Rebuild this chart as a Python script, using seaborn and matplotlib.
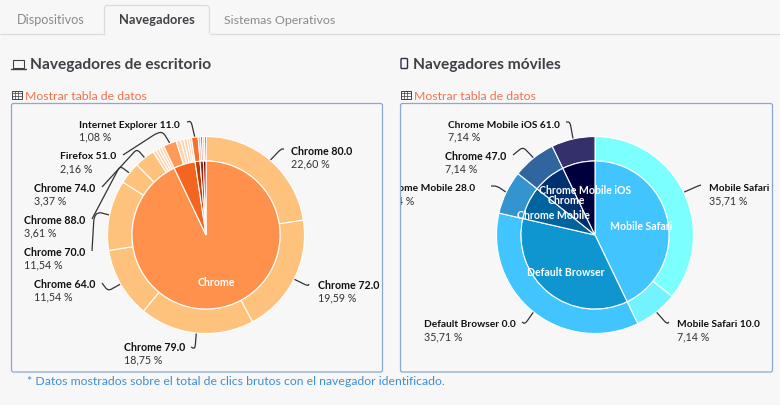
import matplotlib
matplotlib.use("Agg")
import matplotlib.pyplot as plt
from matplotlib.patches import FancyBboxPatch, PathPatch, Rectangle
from matplotlib.path import Path
import numpy as np
import seaborn as sns

# ---- data ----
desk_inner_names = ["Chrome", "Firefox", "Internet Explorer", "Safari", "Otros"]
desk_inner_values = [92.94, 4.70, 1.08, 0.72, 0.56]
desk_outer_names = ["Chrome 80.0", "Chrome 72.0", "Chrome 79.0", "Chrome 64.0", "Chrome 70.0",
                    "Chrome 88.0", "Chrome 74.0", "Chrome 78.0", "Chrome 81.0", "Chrome 75.0",
                    "Chrome 83.0", "Firefox 51.0", "Firefox 74.0", "Firefox 73.0", "Firefox 68.0",
                    "Firefox 52.0", "Firefox 75.0", "Internet Explorer 11.0", "Safari 13.0",
                    "Safari 12.0", "Otros 1", "Otros 2"]
desk_outer_values = [22.60, 19.59, 18.75, 11.54, 11.54,
                     3.61, 3.37, 0.54, 0.50, 0.45,
                     0.45, 2.16, 0.72, 0.54, 0.50,
                     0.40, 0.38, 1.08, 0.40, 0.32, 0.30, 0.26]
mob_inner_names = ["Mobile Safari", "Default Browser", "Chrome Mobile", "Chrome", "Chrome Mobile iOS"]
mob_inner_values = [42.86, 35.71, 7.14, 7.14, 7.14]
mob_outer_names = ["Mobile Safari 13.0", "Mobile Safari 10.0", "Default Browser 0.0",
                   "Chrome Mobile 28.0", "Chrome 47.0", "Chrome Mobile iOS 61.0"]
mob_outer_values = [35.71, 7.14, 35.71, 7.14, 7.14, 7.14]
tab_labels = ["Dispositivos", "Navegadores", "Sistemas Operativos"]

# ---- colours ----
desk_inner_colors = ["#ff914d", "#f4661f", "#c23b00", "#a51a00", "#7a0000"]
_pale = "#ffd2ae"
desk_outer_colors = ["#ffc27d"] * 7 + [_pale] * 4 + ["#ff9a58"] + [_pale] * 5 + \
                    ["#f8702c", "#f0c0b8", "#c8402f", "#f0c0b8", "#700000"]
mob_inner_colors = ["#42c5ff", "#0f96d0", "#00659f", "#003070", "#00003c"]
mob_outer_colors = ["#7bffff", "#72f3ff", "#42c5ff", "#3494d0", "#30659f", "#33306b"]
BG = "#f7f7f7"
DARK = "#3f4146"
ORANGE = "#f0704f"
BLUE = "#8aa8d0"

# ---- layout (pixels) ----
W, H = 780, 406
CENTERS = [(206, 236), (595, 236)]
R_OUT, R_IN = 98.5, 74
desk_labels = {
    "Chrome 80.0": (291, 152, [(281, 150), (284, 150)]),
    "Chrome 72.0": (318, 286, [(308, 287), (309, 285)]),
    "Chrome 79.0": (124, 348, [(195, 350), (191, 348)]),
    "Chrome 64.0": (34, 285, [(108, 292), (102, 284)]),
    "Chrome 70.0": (24, 253, [(98, 213), (94, 218), (92, 252)]),
    "Chrome 88.0": (24, 221, [(120, 167), (92, 220)]),
    "Chrome 74.0": (34, 189, [(137, 150), (102, 188)]),
    "Firefox 51.0": (60, 157, [(163, 133), (157, 134), (123, 156)]),
    "Internet Explorer 11.0": (79, 125, [(191, 122), (187, 123)]),
}
mob_labels = {
    "Chrome Mobile iOS 61.0": (448, 125, [(570, 123), (566, 123)]),
    "Chrome 47.0": (445, 157, [(523, 148), (513, 156)]),
    "Chrome Mobile 28.0": (382, 189, [(497, 187), (491, 187)]),
    "Mobile Safari 13.0": (709, 189, [(698, 187), (701, 186)]),
    "Mobile Safari 10.0": (677, 325, [(667, 325), (669, 323)]),
    "Default Browser 0.0": (424, 325, [(525, 325), (522, 323)]),
}
inner_label_pos = {
    "Chrome": (216, 283),
    "Mobile Safari": (641, 227), "Default Browser": (566, 273),
    "Chrome Mobile": (553, 216), "Chrome2": (566, 201), "Chrome Mobile iOS": (585, 191),
}

sns.set_theme(style="white")
plt.rcParams["font.family"] = ["Lato", "DejaVu Sans"]
fig = plt.figure(figsize=(W / 100, H / 100), dpi=100, facecolor=BG)


def pie_axes(cx, cy):
    half = 110
    return fig.add_axes([(cx - half) / W, 1 - (cy + half) / H, 2 * half / W, 2 * half / H])


def draw_pie(ax, outer, outer_colors, inner, inner_colors):
    wp = dict(edgecolor="white", linewidth=0.8)
    wedges, _ = ax.pie(outer, colors=outer_colors, radius=R_OUT, startangle=90, counterclock=False,
                       normalize=True, wedgeprops=dict(width=R_OUT - R_IN, **wp))
    ax.pie(inner, colors=inner_colors, radius=R_IN, startangle=90, counterclock=False,
           normalize=True, wedgeprops=wp)
    ax.set_xlim(-110, 110)
    ax.set_ylim(-110, 110)
    ax.set_aspect("equal")
    ax.axis("off")
    return wedges


ax_l = pie_axes(*CENTERS[0])
ax_r = pie_axes(*CENTERS[1])
wl = draw_pie(ax_l, desk_outer_values, desk_outer_colors, desk_inner_values, desk_inner_colors)
wr = draw_pie(ax_r, mob_outer_values, mob_outer_colors, mob_inner_values, mob_inner_colors)

# overlay in pixel coordinates
ov = fig.add_axes([0, 0, 1, 1], zorder=5)
ov.set_xlim(0, W)
ov.set_ylim(H, 0)
ov.axis("off")
ov.patch.set_alpha(0)

# tabs
tab_line = dict(color="#dcdcdc", lw=0.9, solid_capstyle="butt")
ov.plot([0, 104.5], [34.5, 34.5], **tab_line)
ov.plot([209.5, 780], [34.5, 34.5], **tab_line)
ov.plot([104.5, 104.5, 106.5, 207.5, 209.5, 209.5],
        [34.5, 8.5, 6.5, 6.5, 8.5, 34.5], **tab_line)
for name, x, col, wt, fs in zip(tab_labels, [17, 119, 224], ["#8a8a8a", DARK, "#8a8a8a"],
                                ["normal", "bold", "normal"], [9.1, 9.3, 8.9]):
    ov.text(x, 20, name, fontsize=fs, color=col, fontweight=wt, va="center", ha="left")

# headings
ov.text(30, 65, "Navegadores de escritorio", fontsize=11.2, fontweight="bold", color=DARK, va="center")
ov.text(413, 65, "Navegadores móviles", fontsize=11.2, fontweight="bold", color=DARK, va="center")
# laptop icon
ov.add_patch(Rectangle((13, 60.5), 11, 8, fc="none", ec=DARK, lw=0.8))
ov.plot([11, 25.5], [69.5, 69.5], color=DARK, lw=1)
# phone icon
ov.add_patch(FancyBboxPatch((401, 59.5), 6.5, 10, boxstyle="round,pad=0,rounding_size=1",
                            fc="none", ec="#3a2a4a", lw=1))
# table links
for x0, xt in [(11, 25), (400, 414)]:
    ov.add_patch(Rectangle((x0 + 0.5, 91.5), 10, 8, fc="none", ec=DARK, lw=0.7))
    for dx in (3.5, 6.8):
        ov.plot([x0 + 0.5 + dx] * 2, [91.5, 99.5], color=DARK, lw=0.5)
    for dy in (2.7, 5.3):
        ov.plot([x0 + 0.5, x0 + 10.5], [91.5 + dy] * 2, color=DARK, lw=0.5)
    ov.text(xt, 96, "Mostrar tabla de datos", fontsize=8.8, color=ORANGE, va="center")

# panels
panels = []
for x0, x1 in [(11.5, 382.5), (400.5, 772.5)]:
    p = FancyBboxPatch((x0, 104.5), x1 - x0, 268.5, boxstyle="round,pad=0,rounding_size=2",
                       fc="none", ec=BLUE, lw=0.9)
    ov.add_patch(p)
    panels.append(Rectangle((x0, 104.5), x1 - x0, 268.5, transform=ov.transData))


def rounded(verts, r=4.0):
    """Polyline with its inner corners rounded, like the leader lines of the reference."""
    out, codes = [verts[0]], [Path.MOVETO]
    for a, b, c in zip(verts, verts[1:], verts[2:]):
        a, b, c = map(np.array, (a, b, c))
        ra = min(r, np.linalg.norm(b - a) / 2)
        rc = min(r, np.linalg.norm(c - b) / 2)
        p1 = b + (a - b) / np.linalg.norm(a - b) * ra
        p2 = b + (c - b) / np.linalg.norm(c - b) * rc
        out += [tuple(p1), tuple(b), tuple(p2)]
        codes += [Path.LINETO, Path.CURVE3, Path.CURVE3]
    out.append(verts[-1])
    codes.append(Path.LINETO)
    return Path(out, codes)


def leaders(wedges, names, values, labels, cx, cy, clip):
    for w, name, val in zip(wedges, names, values):
        if name not in labels:
            continue
        x, y, pts = labels[name]
        th = np.deg2rad(0.5 * (w.theta1 + w.theta2))
        start = (cx + (R_OUT + 0.5) * np.cos(th), cy - (R_OUT + 0.5) * np.sin(th))
        ov.add_patch(PathPatch(rounded([start] + pts), fc="none", ec="#333333", lw=0.9))
        fs = 7.3 if len(name) > 12 else (7.5 if len(name) == 12 else 7.7)
        t1 = ov.text(x, y, name, fontsize=fs, fontweight="bold", color="#111111", va="center")
        t2 = ov.text(x, y + 12, f"{val:.2f} %".replace(".", ","), fontsize=7.7, color="#333333", va="center")
        for t in (t1, t2):
            t.set_clip_on(True)
            t.set_clip_path(clip)


leaders(wl, desk_outer_names, desk_outer_values, desk_labels, *CENTERS[0], panels[0])
leaders(wr, mob_outer_names, mob_outer_values, mob_labels, *CENTERS[1], panels[1])

for key, (x, y) in inner_label_pos.items():
    ov.text(x, y, key.rstrip("2"), fontsize=7.6, fontweight="bold", color="white", ha="center", va="center")

ov.text(27, 382, "* Datos mostrados sobre el total de clics brutos con el navegador identificado.",
        fontsize=8.8, color="#3f8fd6", va="center")

fig.savefig("out.png", dpi=100, facecolor=BG)
